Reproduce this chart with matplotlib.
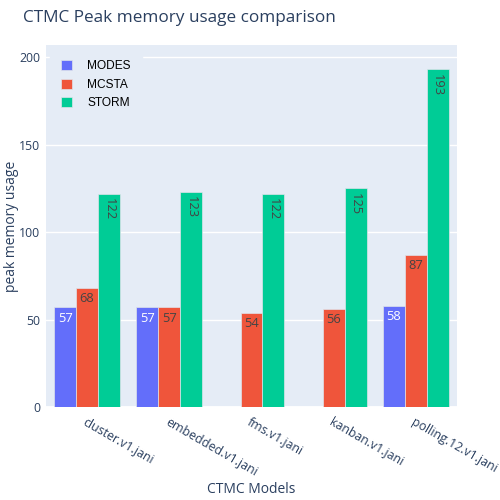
import numpy as np
import matplotlib
matplotlib.use('Agg')
import matplotlib.pyplot as plt

# data
models = ['cluster.v1.jani', 'embedded.v1.jani', 'fms.v1.jani', 'kanban.v1.jani', 'polling.12.v1.jani']
modes = [57, 57, np.nan, np.nan, 58]
mcsta = [68, 57, 54, 56, 87]
storm = [122, 123, 122, 125, 193]
series_names = ['MODES', 'MCSTA', 'STORM']
colors = ['#636efa', '#EF553B', '#00cc96']
label_colors = ['white', '#444444', '#444444']
label_rot = [0, 0, -90]

FONT = 'Open Sans'
TXT = '#2a3f5f'

fig = plt.figure(figsize=(5, 5), dpi=100)
ax = fig.add_axes([0.092, 0.186, 0.822, 0.724])
ax.set_facecolor('#E5ECF6')

x = np.arange(len(models))
w = 0.8 / 3
handles = []
for i, (vals, name) in enumerate(zip([modes, mcsta, storm], series_names)):
    pos = x + (i - 1) * w
    bars = ax.bar(pos, vals, width=w, color=colors[i], edgecolor='#dfe3ea',
                  linewidth=0.5, label=name, zorder=2)
    handles.append(bars)
    for p, v in zip(pos, vals):
        if np.isnan(v):
            continue
        ax.text(p, v - 2.5, f'{v:g}', ha='center', va='top', color=label_colors[i],
                fontsize=9.3, family=FONT, rotation=label_rot[i], zorder=3)

ax.set_xlim(-0.5, len(models) - 0.5)
ax.set_ylim(0, 206.9)
ax.set_yticks([0, 50, 100, 150, 200])
ax.grid(axis='y', color='white', linewidth=1, zorder=0)
ax.axhline(0, color='white', linewidth=2, zorder=1)
ax.set_axisbelow(True)
for s in ax.spines.values():
    s.set_visible(False)
ax.tick_params(length=0, colors=TXT, labelsize=8.8)
for lab in ax.get_yticklabels():
    lab.set_family(FONT)
ax.set_xticks(x)
ax.set_xticklabels(models, rotation=-30, ha='left', va='top', rotation_mode='anchor',
                   family=FONT, fontsize=8.9, color=TXT)
ax.tick_params(axis='x', pad=6)
ax.tick_params(axis='y', pad=4)

ax.set_xlabel('CTMC Models', family=FONT, fontsize=10, color=TXT, va='center')
ax.set_ylabel('peak memory usage', family=FONT, fontsize=10, color=TXT, va='center')
ax.xaxis.set_label_coords(0.5, -0.229)
ax.yaxis.set_label_coords(-0.083, 0.5)
fig.text(0.046, 0.963, 'CTMC Peak memory usage comparison', family=FONT, fontsize=12.3,
         color=TXT, va='center')

leg = ax.legend(handles=handles, loc='upper left', bbox_to_anchor=(0.005, 0.995),
                frameon=True, fancybox=False, prop={'family': 'Liberation Sans', 'size': 8.6},
                handlelength=0.9, handleheight=0.9, handletextpad=1.3, labelspacing=0.55,
                borderpad=0.9, borderaxespad=0.2)
leg.get_frame().set_facecolor('#E5ECF6')
leg.get_frame().set_edgecolor('#E5ECF6')
leg.get_frame().set_alpha(1)

fig.savefig('out.png', dpi=100)
